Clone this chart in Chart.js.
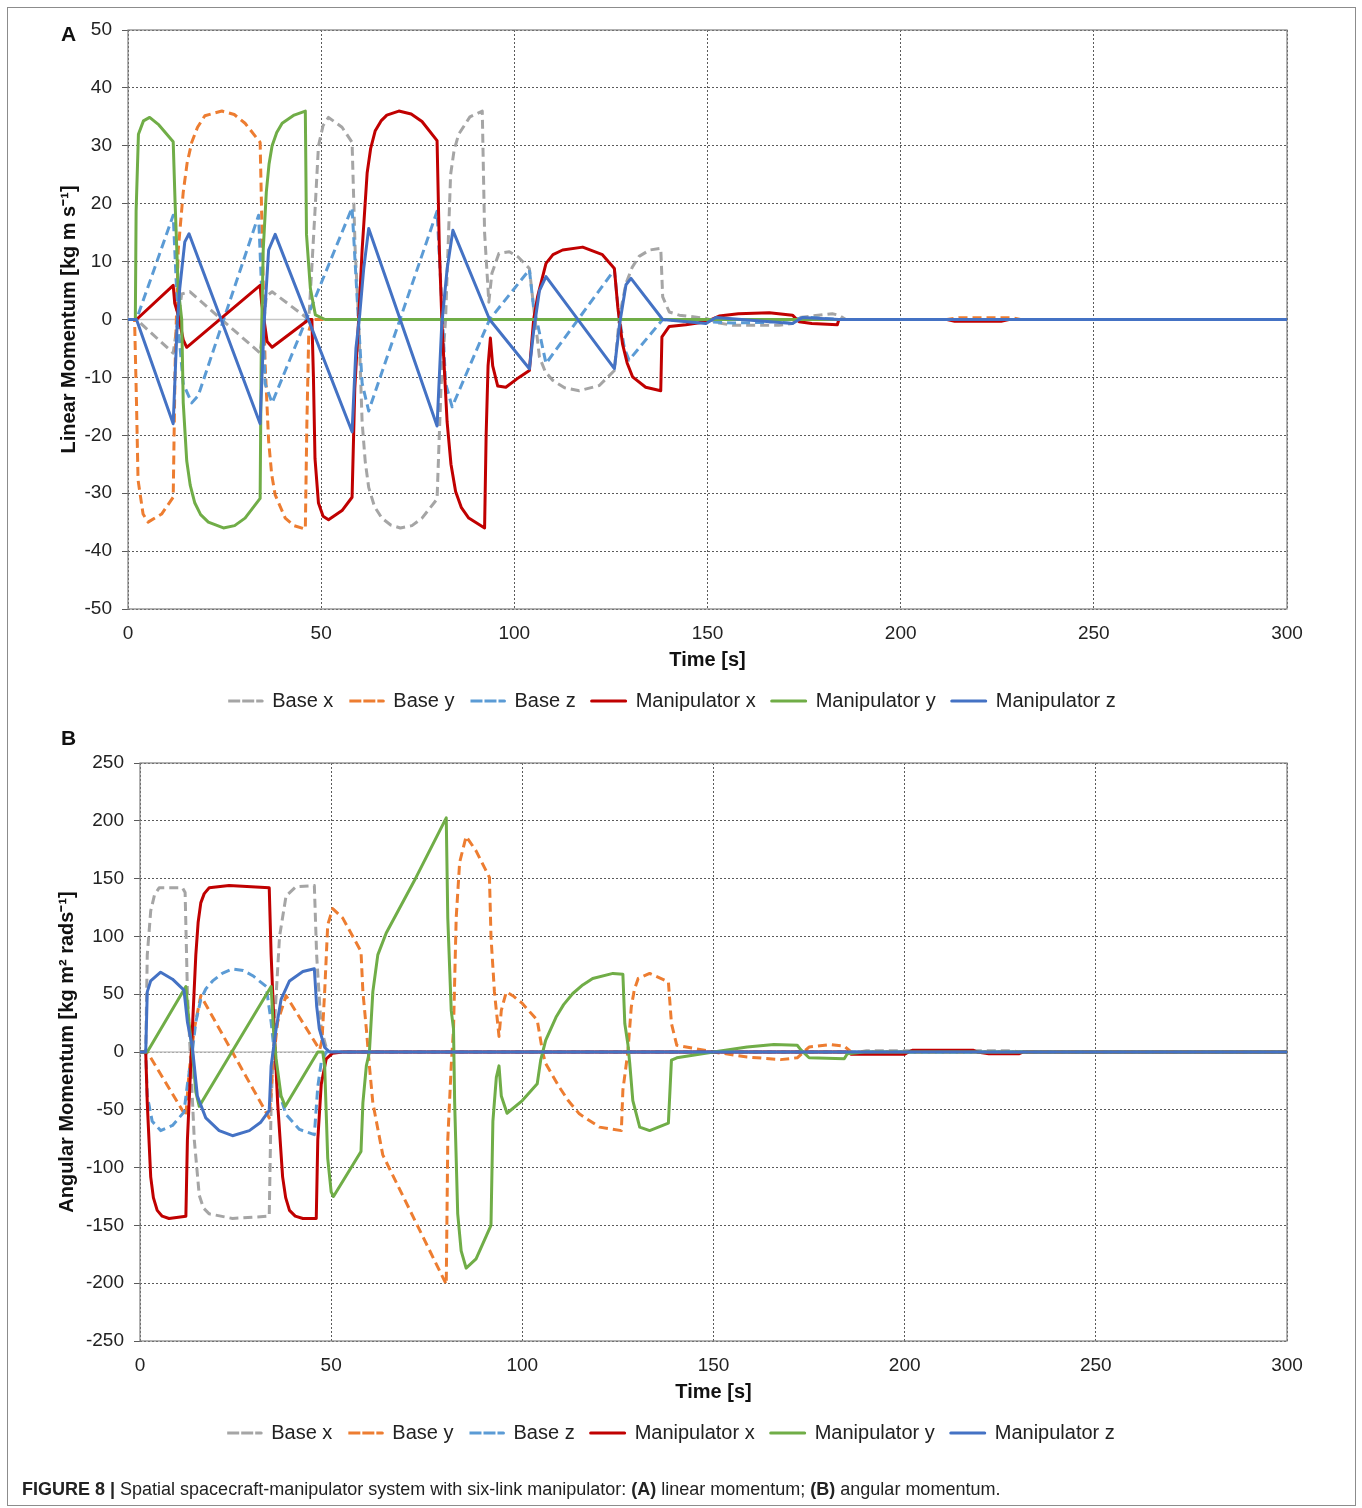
<!DOCTYPE html>
<html>
<head>
<meta charset="utf-8">
<script src="https://cdn.jsdelivr.net/npm/chart.js@4.4.1/dist/chart.umd.min.js"></script>
<style>
  body { margin: 0; background: #fff; font-family: "Liberation Sans", Arial, sans-serif; }
  #page { position: relative; width: 1362px; height: 1508px; overflow: hidden; }
  #frame { position: absolute; left: 7px; top: 7px; width: 1347px; height: 1497px; border: 1px solid #8c8c8c; }
  canvas { position: absolute; left: 0; }
  .tag { position: absolute; left: 61px; font-weight: bold; font-size: 21px; color: #111; }
  #caption { position: absolute; left: 22px; top: 1479px; font-size: 18px; color: #222; }
</style>
</head>
<body>
<div id="page">
  <div id="frame"></div>
  <canvas id="chartA" width="1362" height="725" style="top:0"></canvas>
  <canvas id="chartB" width="1362" height="780" style="top:720px"></canvas>
  <div class="tag" style="top:22px">A</div>
  <div class="tag" style="top:726px">B</div>
  <div id="caption"><b>FIGURE 8 |</b> Spatial spacecraft-manipulator system with six-link manipulator: <b>(A)</b> linear momentum; <b>(B)</b> angular momentum.</div>
</div>
<script>
const timeTicks = [0, 50, 100, 150, 200, 250, 300];
const linTicks = [-50, -40, -30, -20, -10, 0, 10, 20, 30, 40, 50];
const angTicks = [-250, -200, -150, -100, -50, 0, 50, 100, 150, 200, 250];
const seriesNames = ["Base x", "Base y", "Base z", "Manipulator x", "Manipulator y", "Manipulator z"];

// panel A: linear momentum, [time s, value]
const linBaseX = [[0,0],[2.2,0],[11.7,-5.8],[12.5,-2],[13.9,4.4],[16,4.8],[34.2,-5.8],[35,-1.5],[35.8,4],[37.3,4.8],[46.8,0],[47.5,8],[48.4,18.7],[49.3,30],[50.5,33.5],[51.9,34.9],[55.4,33.2],[58,30.6],[58.8,12],[59.7,0],[60.6,-17.7],[61.4,-24.5],[62.3,-29],[63.8,-32.3],[65.7,-34.3],[68,-35.5],[70.5,-36],[73.5,-35.6],[76.1,-34.3],[80,-31],[81,-12],[82.2,0],[83.5,25],[84.4,29.2],[85.6,32],[88.5,35],[91.7,36],[92.3,15],[93.4,3],[94.2,8],[96,11.4],[98.7,11.7],[101,10.8],[103.9,8.8],[105.2,1],[106.5,-6.5],[108,-9],[109.9,-10.5],[113,-11.8],[116.8,-12.3],[122,-11.4],[125.9,-8.8],[127.2,0.5],[128.9,6.2],[130.5,9],[132.3,10.9],[135,12],[137.9,12.3],[138.4,3.9],[140.1,1.3],[142.7,0.75],[149.6,0.2],[153,-0.6],[156.5,-1],[168.5,-1],[172,-0.7],[173.7,0.35],[182.3,1],[184,0.75],[185.8,0],[300,0]];
const linBaseY = [[0,0],[1.7,0],[2.2,-14.4],[2.6,-27.7],[3.9,-33.6],[5.2,-35],[8.7,-33.6],[11.7,-30.7],[12.2,-7.8],[13,12],[14.3,22],[15.3,27],[16.5,30.6],[18,33.2],[19.9,35.2],[24.3,36],[27.5,35.4],[30.3,33.9],[34.2,30.6],[34.8,12],[35.5,-7.8],[36.4,-21],[37.2,-26.8],[38.1,-30.3],[40.7,-34.3],[43,-35.6],[45.9,-36.2],[46.3,-18],[46.8,-2],[47.7,0],[212,0],[215,0.3],[229,0.3],[231,0],[300,0]];
const linBaseZ = [[0,0],[2.2,0],[11.7,18],[13,-1.2],[14.3,-11.1],[16.5,-14.4],[18.2,-13.1],[33.8,18],[34.6,5],[35.5,-11.1],[37.3,-14.4],[58,19.3],[59.2,5],[60.6,-11],[62.3,-15.8],[80,18.7],[81.2,3],[82.2,-11],[83.9,-15.1],[93.6,0],[103.9,8.6],[105,2],[106,-0.7],[108.2,-7.6],[125.9,8.6],[127,1],[128.5,-5],[129.7,-7],[138.4,0],[151,-0.4],[156.5,-0.6],[165,-0.5],[172,0],[176,0.4],[184,0],[300,0]];
const linManX = [[0,0],[2.2,0],[11.7,5.9],[12.1,2.8],[13,0.8],[14.3,-3.5],[15.2,-4.8],[34.2,5.9],[34.6,2.8],[36,-3.8],[37.3,-4.8],[46.8,0],[47.6,0],[48,-10],[48.4,-24],[49.3,-31.7],[50.5,-34],[51.9,-34.6],[55.4,-33],[58,-30.7],[58.7,-12],[59.7,0],[60.6,12],[61.9,25.3],[62.8,29.5],[64,32.6],[65.5,34.3],[67,35.3],[70.1,36],[73.3,35.5],[76.1,34.2],[80,30.9],[80.6,12],[81.3,-1.2],[82.6,-17.7],[83.6,-25],[84.8,-29.7],[86.3,-32.5],[88.2,-34.3],[92.3,-36],[92.7,-20],[93.2,-8],[93.8,-3.2],[94.4,-8],[95.7,-11.5],[97.8,-11.7],[101.2,-10],[103.9,-8.8],[105,0],[106,3.9],[108.2,9.7],[110,11.2],[112.5,12],[117.7,12.5],[122.8,11.2],[125.9,8.8],[126.8,2],[128,-4.2],[129.2,-7.5],[130.6,-9.9],[134,-11.7],[137.9,-12.3],[138.2,-3],[140.1,-1.2],[144.4,-0.9],[149.6,-0.4],[153,0.6],[158,1],[166,1.15],[172,0.75],[173.7,-0.4],[177,-0.7],[183.6,-0.9],[184,0],[212,0],[214,-0.3],[226,-0.3],[228,0],[300,0]];
const linManY = [[0,0],[1.9,0],[2.1,18.7],[2.7,32],[4,34.3],[5.6,34.9],[8,33.6],[11.7,30.7],[12.2,20],[13,5.4],[13.9,0],[14.3,-14.4],[15.2,-24.4],[16.1,-28.6],[17.3,-31.7],[18.8,-33.7],[20.8,-35],[24.7,-36],[27.6,-35.6],[30.3,-34.3],[34.2,-30.9],[34.5,-5],[35,12],[35.8,22],[36.5,26.8],[37.3,30],[38.5,32.3],[39.9,33.9],[43,35.3],[45.9,36],[46.2,14.7],[47.2,5.4],[48.5,0.8],[51,0],[300,0]];
const linManZ = [[0,0],[2.2,0],[11.7,-18],[12.7,-1.2],[13.4,5.4],[14.7,13.4],[15.8,14.8],[34.2,-18],[35.2,-1],[36.4,12],[38.1,14.7],[58,-19.4],[59,-5],[60,1],[61,8.7],[62.3,15.7],[80,-18.4],[81.2,-1],[82.6,8.7],[84.1,15.4],[93.6,0],[103.9,-8.5],[105,-2],[106.5,5],[108.2,7.4],[125.9,-8.5],[127.2,-1],[128.9,6],[130.2,7.1],[138.4,0],[149.6,-0.7],[152.2,0.35],[172,-0.7],[174.6,0.35],[184,0],[300,0]];

// panel B: angular momentum, [time s, value]
const angBaseX = [[0,0],[1.5,0],[1.9,84],[2.8,122],[3.8,136],[5,142],[11.1,142],[11.8,138],[12.4,52],[13.3,-12],[14.2,-76],[15.5,-124],[16.6,-135],[18.1,-140],[24.2,-144],[33.8,-142],[34.3,-44],[35.1,20],[36.5,100],[38.2,135],[40.8,143],[45.6,144],[46.2,84],[47.4,20],[48.7,4],[50,0],[188,0],[190,1],[228,1],[230,0],[300,0]];
const angBaseY = [[0,0],[1.9,0],[12,-55.5],[12.8,-18.6],[14.2,20],[15.9,48.7],[33.8,-57],[34.8,-10],[36,26],[38.2,48.7],[47,2],[47.6,10],[48.3,52],[49.1,110],[50.4,124],[53,116],[57.8,87],[58.3,52],[59.2,20],[60,-12],[60.9,-44],[63.5,-89],[80.1,-201],[80.5,-76],[81.4,-12],[82,20],[82.7,116],[83.6,164],[85.3,186.5],[87.9,174],[91.4,151],[91.8,100],[92.7,52],[93.9,13.5],[94.5,36],[95.8,52],[97.5,48.7],[100,42],[103.9,27.5],[105.3,0],[106.1,-10],[109.6,-30],[112,-42],[114.9,-53.5],[120.2,-65],[125.9,-68],[126.3,-33],[127.6,0],[128.5,39],[129.3,54],[130.3,63.6],[133.3,68],[138.2,60.7],[139,24.6],[140.4,5.8],[150,0],[158.8,-4.3],[167.5,-6.6],[171.9,-5],[175,4.3],[180.7,6.4],[184.2,5],[186,0],[300,0]];
const angBaseZ = [[0,0],[1.5,0],[1.9,-38],[3.2,-60],[5.4,-68],[8.5,-63.5],[11.5,-52],[12.4,-28],[13.7,0.6],[14.6,26],[15.9,45.5],[17.2,54.5],[19,61.5],[21.5,68],[24.2,71.8],[27,70.5],[29.5,66],[33,56.7],[34.3,26],[35.1,0.6],[36,-31],[38.2,-54],[41.7,-67],[45.6,-71.5],[46.5,-30],[47.4,-9],[48.7,0],[300,0]];
const angManX = [[0,0],[1.5,0],[1.9,-44],[2.8,-108],[3.5,-126],[4.5,-137],[5.8,-142],[7.6,-144],[12,-142],[12.4,-76],[13.7,20],[14.6,84],[15.2,112],[15.9,129],[16.8,137],[18.1,142],[23.3,144],[33.8,142],[34.3,84],[35.1,20],[36,-44],[37.3,-108],[38.1,-126],[39.1,-137],[40.6,-142],[42.6,-144],[46.1,-144],[46.5,-76],[47.4,-28],[48.7,-6],[50.4,-1],[53,0],[185,0],[186,-2],[200,-2],[201,0],[202,1.5],[218,1.5],[219,0],[222,-1.5],[230,-1.5],[231,0],[300,0]];
const angManY = [[0,0],[1.9,0],[12,56.7],[12.8,26],[13.7,0.6],[14.6,-34.6],[15.5,-47],[34.3,56.7],[34.9,20],[35.6,-6],[36.9,-38],[38,-47],[46.5,0],[47.8,0],[48.3,-12],[49.1,-92],[50,-121],[50.6,-125],[57.8,-86],[58.3,-44],[59.2,-12],[60,0],[60.9,52],[62.2,84],[64.4,103],[72.2,151],[80.1,202.5],[80.5,116],[81.4,36],[82,20],[82.3,-44],[83.1,-140],[84,-172],[85.3,-187],[87.9,-179],[91.8,-150],[92.3,-60],[93.2,-22],[93.9,-12],[94.5,-38],[96,-53],[100,-42],[103.9,-27.5],[104.8,-7],[106.1,10],[108.8,30],[110.8,41],[113.2,50.6],[115.8,58],[118.4,63.6],[123.7,68],[126.3,67.3],[126.8,24.6],[127.6,7],[128.1,-10],[128.9,-42],[130.7,-65],[133.3,-68],[138.2,-61.6],[139,-7],[140.4,-5],[150,0],[158.8,4.3],[165.8,6.4],[171.9,5.8],[172.8,2],[175,-5],[184.2,-5.8],[185,-1.5],[189.5,0],[300,0]];
const angManZ = [[0,0],[1.5,0],[1.9,52],[2.8,61.5],[5.4,69],[8.5,63],[11.5,53.5],[12.4,26],[13.7,4],[14.2,-12],[15,-38],[17.2,-57],[20.7,-68],[24.2,-72.4],[28.6,-68],[31.5,-61],[33.8,-50.6],[34.3,-12],[35.6,20],[36.9,45.5],[39.1,61.5],[42.6,69.6],[45.6,72],[46.2,40],[46.9,20],[48.3,4],[49.6,0],[300,0]];

const COLORS = ["#A5A5A5", "#ED7D31", "#5B9BD5", "#C00000", "#70AD47", "#4472C4"];
const FONT = "'Liberation Sans', Arial, sans-serif";

Chart.defaults.font.family = FONT;
Chart.defaults.color = "#222";

// solid frame around plot area and light zero line
const framePlugin = {
  id: "frame",
  beforeDatasetsDraw(chart) {
    const { ctx, chartArea: a, scales } = chart;
    const y0 = scales.y.getPixelForValue(0);
    ctx.save();
    ctx.strokeStyle = "#c6c6c6";
    ctx.lineWidth = 1.5;
    ctx.beginPath();
    ctx.moveTo(a.left, y0);
    ctx.lineTo(a.right, y0);
    ctx.stroke();
    ctx.strokeStyle = "#808080";
    ctx.lineWidth = 1.2;
    ctx.strokeRect(a.left, a.top, a.right - a.left, a.bottom - a.top);
    ctx.restore();
  }
};

function makeChart(canvasId, lists, yTicks, yTitle, pad, yWidth) {
  // reversed so that Manipulator z is painted last (on top), legend reversed back
  const datasets = lists.map((list, i) => ({
    label: seriesNames[i],
    data: list.map(([x, y]) => ({ x, y })),
    borderColor: COLORS[i],
    backgroundColor: COLORS[i],
    borderWidth: 3,
    borderDash: i < 3 ? [9, 5] : [],
    borderJoinStyle: "round",
    pointRadius: 0,
    showLine: true,
    tension: 0
  })).reverse();

  new Chart(document.getElementById(canvasId), {
    type: "scatter",
    data: { datasets },
    options: {
      responsive: false,
      animation: false,
      devicePixelRatio: 1,
      layout: { padding: pad },
      plugins: {
        tooltip: { enabled: false },
        legend: {
          position: "bottom",
          reverse: true,
          labels: {
            boxWidth: 34,
            boxHeight: 0,
            padding: 16,
            color: "#222",
            font: { size: 20 }
          }
        }
      },
      scales: {
        x: {
          type: "linear",
          min: 0, max: 300,
          afterBuildTicks: s => { s.ticks = timeTicks.map(v => ({ value: v })); },
          afterFit: s => { s.height = 66; },
          grid: { color: "#5a5a5a", drawTicks: false, lineWidth: 1 },
          border: { display: false, dash: [2, 2] },
          ticks: { padding: 13, font: { size: 19 }, color: "#222" },
          title: { display: true, text: "Time [s]", font: { size: 20, weight: "bold" }, color: "#111", padding: { top: 0, bottom: 3 } }
        },
        y: {
          min: yTicks[0], max: yTicks[yTicks.length - 1],
          afterBuildTicks: s => { s.ticks = yTicks.map(v => ({ value: v })); },
          afterFit: s => { s.width = yWidth; },
          grid: { color: "#5a5a5a", tickLength: 6, lineWidth: 1 },
          border: { display: false, dash: [2, 2] },
          ticks: { padding: 10, font: { size: 19 }, color: "#222" },
          title: { display: true, text: yTitle, font: { size: 20, weight: "bold" }, color: "#111", padding: 0 }
        }
      }
    },
    plugins: [framePlugin]
  });
}

makeChart("chartA", [linBaseX, linBaseY, linBaseZ, linManX, linManY, linManZ], linTicks,
  "Linear Momentum [kg m s\u207B\u00B9]", { left: 57, right: 75, top: 30, bottom: 4 }, 71);
makeChart("chartB", [angBaseX, angBaseY, angBaseZ, angManX, angManY, angManZ], angTicks,
  "Angular Momentum [kg m\u00B2 rads\u207B\u00B9]", { left: 55, right: 75, top: 43, bottom: 47 }, 85);
</script>
</body>
</html>
